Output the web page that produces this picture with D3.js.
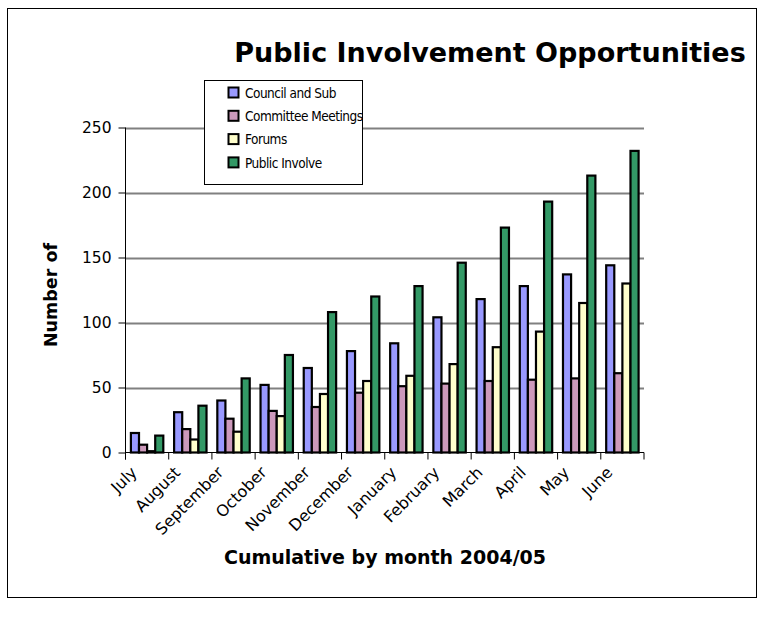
<!DOCTYPE html>
<html><head><meta charset="utf-8">
<script src="https://cdn.jsdelivr.net/npm/d3@7"></script>
<style>
body{margin:0;background:#fff;}
text{font-family:"DejaVu Sans",Verdana,sans-serif;}
.cond{font-family:"DejaVu Sans Condensed","DejaVu Sans",sans-serif;font-stretch:condensed;}
</style></head>
<body><svg id="c" width="763" height="628"></svg>
<script>
const months = ["July","August","September","October","November","December","January","February","March","April","May","June"];
const seriesNames = ["Council and Sub","Committee Meetings","Forums","Public Involve"];
const seriesColors = ["#9999FF","#CC99BB","#FFFFCC","#339966"];
const council   = [15,31,40,52,65,78,84,104,118,128,137,144];
const committee = [6,18,26,32,35,46,51,53,55,56,57,61];
const forums    = [1,10,16,28,45,55,59,68,81,93,115,130];
const publicInv = [13,36,57,75,108,120,128,146,173,193,213,232];
const yTicks = [0,50,100,150,200,250];
const title = "Public Involvement Opportunities";
const yTitle = "Number of";
const xTitle = "Cumulative by month 2004/05";

(function(){
const seriesVals = [council, committee, forums, publicInv];
const svg = d3.select("#c");

svg.append("rect").attr("x",7.5).attr("y",8.5).attr("width",749).attr("height",589)
  .attr("fill","#fff").attr("stroke","#000").attr("stroke-width",1);

const pl=125.5, pr=644, pt=127.5, pb=452.5;
const y = d3.scaleLinear().domain([0,250]).range([pb,pt]);
const x0 = d3.scaleBand().domain(months).range([pl,pr]).paddingInner(0.25).paddingOuter(0.125);
const x1 = d3.scaleBand().domain(d3.range(4)).range([0,x0.bandwidth()]);

// gridlines
svg.append("g").selectAll("line").data(yTicks.filter(d=>d>0)).join("line")
  .attr("x1",pl).attr("x2",pr).attr("y1",d=>Math.round(y(d))+0.5).attr("y2",d=>Math.round(y(d))+0.5)
  .attr("stroke","#808080").attr("stroke-width",2);

// bars
const groups = svg.append("g").selectAll("g").data(months).join("g")
  .attr("transform",m=>`translate(${x0(m)},0)`);
groups.selectAll("rect").data((m,i)=>seriesVals.map((s,k)=>({k,v:s[i]}))).join("rect")
  .attr("x",d=>x1(d.k)).attr("width",x1.bandwidth())
  .attr("y",d=>y(d.v)).attr("height",d=>pb-y(d.v))
  .attr("fill",d=>seriesColors[d.k]).attr("stroke","#000").attr("stroke-width",2.2);

// y axis
const yAxis = d3.axisLeft(y).tickValues(yTicks).tickSize(7).tickPadding(7);
const gy = svg.append("g").attr("transform",`translate(${pl},0)`).call(yAxis);
gy.select(".domain").attr("d",`M0,${pt}V${pb+7}`).attr("stroke","#000");
gy.selectAll(".tick line").attr("stroke","#000");
gy.selectAll(".tick text").attr("font-size",15.5).attr("fill","#000").style("font-family","DejaVu Sans");

// x axis
const boundaries = d3.range(13).map(i=>pl+i*(pr-pl)/12);
svg.append("line").attr("x1",pl).attr("x2",pr).attr("y1",pb).attr("y2",pb).attr("stroke","#000");
svg.append("g").selectAll("line").data(boundaries).join("line")
  .attr("x1",d=>d).attr("x2",d=>d).attr("y1",pb).attr("y2",pb+7).attr("stroke","#000");
svg.append("g").selectAll("text").data(months).join("text")
  .attr("transform",m=>`translate(${x0(m)+x0.bandwidth()/2-13},${pb+17}) rotate(-45)`)
  .attr("text-anchor","end").attr("dy","0.35em").attr("font-size",16).text(m=>m);

// titles
svg.append("text").attr("x",490).attr("y",62).attr("text-anchor","middle")
  .attr("font-size",27).attr("font-weight","bold").text(title);
svg.append("text").attr("transform","translate(57,295) rotate(-90)").attr("text-anchor","middle")
  .attr("font-size",17.5).attr("font-weight","bold").text(yTitle);
svg.append("text").attr("x",385).attr("y",564).attr("text-anchor","middle")
  .attr("font-size",19).attr("font-weight","bold").text(xTitle);

// legend
const lg = svg.append("g");
lg.append("rect").attr("x",204.5).attr("y",80.5).attr("width",158).attr("height",104)
  .attr("fill","#fff").attr("stroke","#000");
const items = lg.selectAll("g").data(seriesNames).join("g")
  .attr("transform",(d,i)=>`translate(228,${93+i*23.3})`);
items.append("rect").attr("x",0.5).attr("y",-5.5).attr("width",10).attr("height",10)
  .attr("fill",(d,i)=>seriesColors[i]).attr("stroke","#000").attr("stroke-width",2);
items.append("text").attr("class","cond").attr("x",17).attr("dy","0.35em").attr("font-size",13.5)
  .attr("letter-spacing",-0.5).text(d=>d);
})();
</script></body></html>
